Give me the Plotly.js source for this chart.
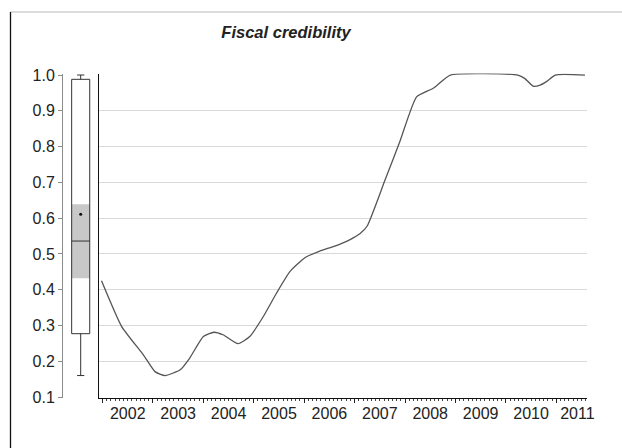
<!DOCTYPE html>
<html>
<head>
<meta charset="utf-8">
<script src="https://cdn.plot.ly/plotly-3.0.1.min.js"></script>
<style>
  html, body { margin: 0; padding: 0; background: #fff; }
  #chart { width: 622px; height: 448px; }
</style>
</head>
<body>
<div id="chart"></div>
<script>
// Fiscal credibility index over time (decimal years)
var years = [2001.98, 2002.38, 2002.81, 2003.04, 2003.24, 2003.54, 2003.73, 2004.00,
             2004.21, 2004.39, 2004.69, 2004.92, 2005.19, 2005.45, 2005.72, 2006.02,
             2006.31, 2006.61, 2006.91, 2007.11, 2007.25, 2007.60, 2007.90,
             2008.23, 2008.56, 2008.90, 2010.24, 2010.38, 2010.54, 2010.68, 2010.82,
             2010.98, 2011.57];
var credibility = [0.425, 0.297, 0.218, 0.171, 0.160, 0.176, 0.209, 0.269,
                   0.281, 0.274, 0.249, 0.269, 0.325, 0.390, 0.451, 0.490,
                   0.508, 0.522, 0.540, 0.557, 0.578, 0.705, 0.815,
                   0.939, 0.963, 1.000, 1.000, 0.990, 0.969, 0.972, 0.983,
                   1.000, 1.000];

// Distribution summary shown as the box on the left
var boxQ1 = [0.277];
var boxMedian = [0.536];
var boxQ3 = [0.988];
var boxLow = [0.160];
var boxHigh = [1.000];
var boxMean = [0.611];
var medianBand = [0.432, 0.639];   // shaded interval around the median

// Axis ticks and labels
var yTicks = [0.1, 0.2, 0.3, 0.4, 0.5, 0.6, 0.7, 0.8, 0.9, 1.0];
var yTickText = ['0.1', '0.2', '0.3', '0.4', '0.5', '0.6', '0.7', '0.8', '0.9', '1.0'];
var gridTicks = [0.2, 0.3, 0.4, 0.5, 0.6, 0.7, 0.8, 0.9];
var yearStarts = [2002, 2003, 2004, 2005, 2006, 2007, 2008, 2009, 2010, 2011];
var yearLabelPos = [2002.5, 2003.5, 2004.5, 2005.5, 2006.5, 2007.5, 2008.5, 2009.5, 2010.5, 2011.42];
var yearLabels = ['2002', '2003', '2004', '2005', '2006', '2007', '2008', '2009', '2010', '2011'];

var W = 622, H = 448;
var textColor = '#222222';
var font = { family: 'Liberation Sans, Arial, sans-serif', size: 16, color: textColor };

var yDomain = [1 - 398.1 / H, 1 - 73.6 / H];
var yRange = [0.097, 1.004];
var xRange = [2001.93, 2011.61];
var boxWidth = 1.02;

var traces = [
  {
    type: 'box',
    x: [0],
    q1: boxQ1, median: boxMedian, q3: boxQ3,
    lowerfence: boxLow, upperfence: boxHigh,
    width: boxWidth,
    whiskerwidth: 0.4,
    fillcolor: 'rgba(0,0,0,0)',
    line: { color: '#333333', width: 1 },
    boxpoints: false,
    hoverinfo: 'skip',
    xaxis: 'x', yaxis: 'y',
    showlegend: false
  },
  {
    type: 'scatter', mode: 'markers',
    x: [0], y: boxMean,
    marker: { color: '#111111', size: 3 },
    xaxis: 'x', yaxis: 'y',
    hoverinfo: 'skip', showlegend: false
  },
  {
    type: 'scatter', mode: 'lines',
    x: years, y: credibility,
    line: { color: '#555555', width: 1.3, shape: 'spline', smoothing: 0.5 },
    xaxis: 'x2', yaxis: 'y2',
    showlegend: false
  },
  {
    // carries the year labels, centred between year ticks
    type: 'scatter', mode: 'lines',
    x: [xRange[0]], y: [0.5],
    line: { color: 'rgba(0,0,0,0)' },
    xaxis: 'x3', yaxis: 'y2',
    hoverinfo: 'skip', showlegend: false
  }
];

var layout = {
  width: W, height: H,
  margin: { l: 0, r: 0, t: 0, b: 0 },
  paper_bgcolor: '#ffffff',
  plot_bgcolor: 'rgba(0,0,0,0)',
  font: font,
  title: {
    text: 'Fiscal credibility',
    x: 286 / W, xref: 'paper', xanchor: 'center',
    y: 1 - 32 / H, yref: 'paper', yanchor: 'middle',
    font: { family: 'Liberation Sans, Arial, sans-serif', size: 16.5, color: textColor, weight: 'bold', style: 'italic' }
  },
  xaxis: {
    domain: [63 / W, 98.4 / W],
    range: [-1, 1],
    visible: false,
    fixedrange: true
  },
  yaxis: {
    domain: yDomain, range: yRange, anchor: 'x',
    tickvals: yTicks, ticktext: yTickText,
    showline: true, linecolor: '#8c8c8c', linewidth: 1,
    ticks: 'outside', ticklen: 4, tickcolor: '#8c8c8c', tickwidth: 1,
    showgrid: false, zeroline: false,
    tickfont: font
  },
  xaxis2: {
    domain: [99 / W, 587 / W],
    range: xRange, anchor: 'y2',
    tickvals: yearStarts,
    showticklabels: false,
    ticks: 'outside', ticklen: 4, tickcolor: '#222222', tickwidth: 1,
    minor: { dtick: 1 / 12, tick0: 2002, ticks: 'outside', ticklen: 2, tickcolor: '#444444', tickwidth: 1, showgrid: false },
    showline: true, linecolor: '#111111', linewidth: 1,
    showgrid: false, zeroline: false
  },
  xaxis3: {
    domain: [99 / W, 587 / W],
    range: xRange, anchor: 'y2', overlaying: 'x2', side: 'bottom',
    tickvals: yearLabelPos, ticktext: yearLabels,
    ticks: '', showline: false, showgrid: false, zeroline: false,
    tickfont: font, ticklabelstandoff: 4
  },
  yaxis2: {
    domain: yDomain, range: yRange, anchor: 'x2',
    tickvals: gridTicks,
    showticklabels: false, ticks: '',
    showline: true, linecolor: '#111111', linewidth: 1,
    showgrid: true, gridcolor: '#d9d9d9', gridwidth: 1,
    zeroline: false
  },
  shapes: [
    {
      type: 'rect', xref: 'x', yref: 'y', layer: 'below',
      x0: -boxWidth / 2, x1: boxWidth / 2,
      y0: medianBand[0], y1: medianBand[1],
      fillcolor: '#c8c8c8', line: { width: 0 }
    },
    {
      type: 'line', xref: 'paper', yref: 'paper',
      x0: 10 / W, x1: 1, y0: 1 - 12 / H, y1: 1 - 12 / H,
      line: { color: '#d0d0d0', width: 1.5 }
    },
    {
      type: 'line', xref: 'paper', yref: 'paper',
      x0: 10.5 / W, x1: 10.5 / W, y0: 0, y1: 1 - 12 / H,
      line: { color: '#111111', width: 1.3 }
    }
  ]
};

Plotly.newPlot('chart', traces, layout, { displayModeBar: false, staticPlot: true });
</script>
</body>
</html>
